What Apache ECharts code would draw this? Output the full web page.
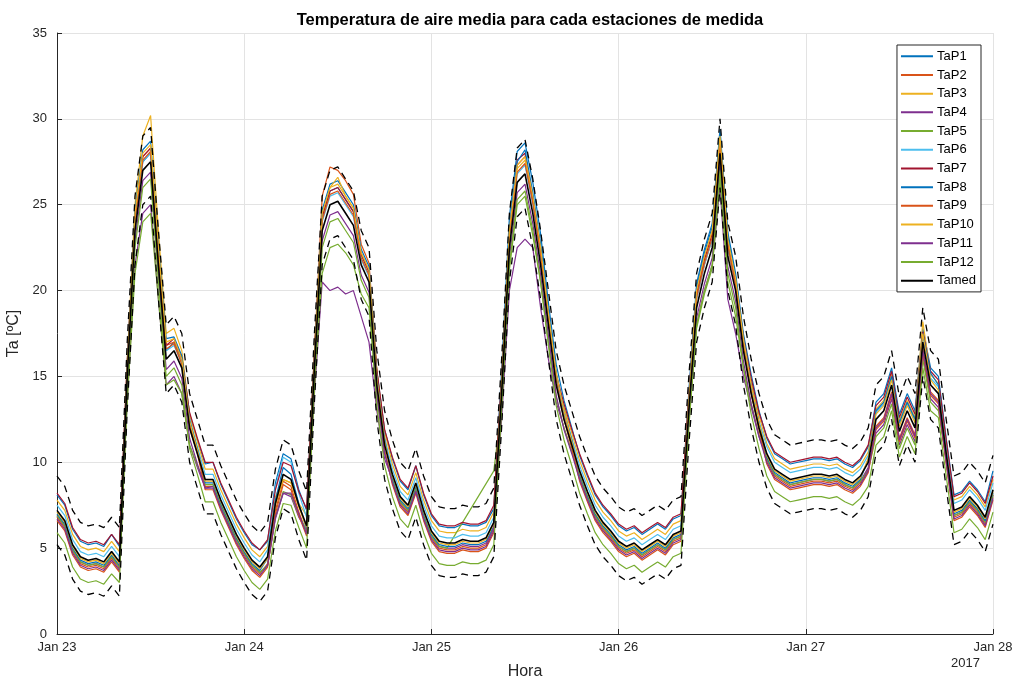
<!DOCTYPE html>
<html>
<head>
<meta charset="utf-8">
<script src="https://cdn.jsdelivr.net/npm/echarts@6/dist/echarts.min.js"></script>
<style>
html,body{margin:0;padding:0;background:#fff;}
#chart{width:1017px;height:681px;}
</style>
</head>
<body>
<div id="chart"></div>
<script>
// ---- Data (hourly samples, Jan 23 00:00 .. Jan 28 00:00) ----
const dayLabels = ['Jan 23','Jan 24','Jan 25','Jan 26','Jan 27','Jan 28'];
const yearLabel = '2017';
const stationNames = ['TaP1','TaP2','TaP3','TaP4','TaP5','TaP6','TaP7','TaP8','TaP9','TaP10','TaP11','TaP12'];

const tap1 = [8.1,7.5,6.1,5.4,5.2,5.3,5.1,5.8,5.1,15.7,24.0,27.5,28.0,22.0,16.5,17.0,16.0,12.8,11.3,9.9,10.0,8.7,7.7,6.7,
5.9,5.2,4.9,5.4,8.8,10.5,10.2,8.4,7.2,16.3,24.3,25.8,26.0,25.3,24.6,22.1,21.1,15.3,11.9,10.2,8.9,8.4,9.8,8.1,
6.9,6.3,6.2,6.2,6.4,6.3,6.3,6.5,7.3,15.3,24.3,28.1,28.6,26.3,23.3,19.3,15.7,13.6,12.0,10.4,9.2,8.1,7.4,6.9,
6.3,6.0,6.2,5.8,6.1,6.4,6.1,6.7,6.9,14.1,20.4,22.4,23.9,29.4,23.4,21.0,17.5,15.1,13.0,11.4,10.5,10.2,9.9,10.0,
10.1,10.2,10.2,10.1,10.2,9.9,9.7,10.1,10.9,13.5,14.0,15.5,12.8,14.0,13.0,17.8,15.5,15.0,11.4,8.1,8.3,8.9,8.4,7.7,9.5];
const tap2 = [6.8,6.2,4.8,4.1,3.9,4.0,3.8,4.4,3.8,15.2,24.3,27.8,28.3,22.3,16.8,17.0,15.8,12.2,10.7,8.6,8.6,7.4,6.4,5.4,
4.6,3.9,3.5,4.1,7.2,8.9,8.6,7.1,5.9,16.3,25.5,27.2,27.0,26.4,25.6,22.7,21.6,15.3,11.5,8.9,7.6,7.1,8.4,6.8,
5.6,5.0,4.9,4.9,5.1,5.0,5.0,5.2,6.1,14.3,23.5,27.3,27.8,25.5,22.5,18.6,14.9,12.8,11.2,9.1,7.9,6.8,6.1,5.6,
5.0,4.7,4.9,4.5,4.8,5.1,4.8,5.4,5.6,13.1,19.5,21.5,23.0,28.5,22.5,20.3,16.7,14.1,12.1,10.1,9.2,8.9,8.6,8.7,
8.8,8.9,8.9,8.8,8.9,8.6,8.4,8.8,9.6,12.1,12.6,14.1,11.4,12.6,11.6,16.6,14.1,13.6,10.1,6.8,7.0,7.6,7.1,6.4,8.0];
const tap3 = [7.8,7.2,5.8,5.1,4.9,5.0,4.8,5.4,4.8,15.8,25.0,29.0,30.2,23.5,17.5,17.8,16.5,12.8,11.2,9.6,9.6,8.4,7.4,6.4,
5.6,4.9,4.5,5.1,8.0,9.0,8.8,7.6,6.9,16.3,24.5,26.0,26.2,25.5,24.8,22.2,21.2,15.3,11.8,9.9,8.6,8.1,9.4,7.8,
6.6,6.0,5.9,5.9,6.1,6.0,6.0,6.2,7.1,14.7,23.3,27.1,27.6,25.3,22.3,18.6,15.1,13.2,11.7,10.1,8.9,7.8,7.1,6.6,
6.0,5.7,5.9,5.5,5.8,6.1,5.8,6.4,6.6,13.8,19.8,21.8,23.3,28.8,22.8,20.6,17.1,14.7,12.7,11.1,10.2,9.9,9.6,9.7,
9.8,9.9,9.9,9.8,9.9,9.6,9.4,9.8,10.6,13.1,13.6,15.1,12.4,13.6,12.6,18.2,15.1,14.6,11.1,7.8,8.0,8.6,8.1,7.4,9.0];
const tap4 = [6.9,6.3,4.9,4.2,4.0,4.1,3.9,4.5,3.9,13.6,21.5,24.5,25.0,19.5,14.5,15.0,14.0,11.0,9.7,8.5,8.6,7.4,6.4,5.5,
4.7,4.0,3.6,4.0,6.7,8.2,8.0,6.8,6.0,14.0,20.5,20.0,20.2,19.8,20.0,18.5,17.0,13.0,10.2,9.0,7.7,7.2,8.5,6.9,
5.7,5.1,5.0,5.0,5.2,5.1,5.1,5.3,6.2,12.5,20.0,22.5,23.0,22.5,19.0,16.0,13.5,12.0,10.6,9.2,8.0,6.9,6.2,5.7,
5.1,4.8,5.0,4.6,4.9,5.2,4.9,5.5,5.7,12.5,18.0,20.0,21.5,26.0,19.5,17.5,15.0,13.2,11.5,10.2,9.3,9.0,8.7,8.8,
8.9,9.0,9.0,8.9,9.0,8.7,8.5,8.9,9.7,11.7,12.2,13.7,11.0,12.2,11.2,16.2,13.7,13.2,10.2,6.9,7.1,7.7,7.2,6.5,8.1];
const tap5 = [6.9,6.3,4.9,4.2,4.0,4.1,3.9,4.5,3.9,13.5,21.0,24.0,24.5,19.5,14.5,14.8,14.0,11.0,9.8,8.7,8.7,7.5,6.5,5.5,
4.7,4.0,3.6,4.0,6.8,8.3,8.1,6.9,6.0,14.5,21.0,22.5,22.7,22.2,21.5,19.8,19.0,13.8,10.6,9.0,7.7,7.2,8.5,6.9,
5.7,5.1,5.0,null,null,null,null,null,9.5,13.2,21.2,25.0,25.5,23.2,20.5,17.0,13.8,12.0,10.6,9.2,8.0,6.9,6.2,5.7,
5.1,4.8,5.0,4.6,4.9,5.2,4.9,5.5,5.7,12.3,17.8,19.8,21.3,26.5,20.5,18.5,15.5,13.4,11.6,10.2,9.3,9.0,8.7,8.8,
8.9,9.0,9.0,8.9,9.0,8.7,8.5,8.9,9.5,11.5,12.0,13.4,10.8,12.0,11.0,16.0,13.5,13.0,10.2,6.9,7.1,7.7,7.2,6.5,8.1];
const tap6 = [7.5,6.9,5.5,4.8,4.6,4.7,4.5,5.1,4.5,15.4,24.0,27.5,28.0,22.0,16.5,16.8,15.8,12.4,10.9,9.3,9.3,8.1,7.1,6.1,
5.3,4.6,4.2,4.9,8.5,10.3,10.0,8.2,6.8,15.9,24.0,25.5,25.7,25.0,24.3,21.8,20.8,14.9,11.4,9.6,8.3,7.8,9.1,7.5,
6.3,5.7,5.6,5.6,5.8,5.7,5.7,5.9,6.8,14.4,23.0,26.8,27.3,25.0,22.0,18.4,14.9,12.9,11.4,9.8,8.6,7.5,6.8,6.3,
5.7,5.4,5.6,5.2,5.5,5.8,5.5,6.1,6.3,13.3,19.5,21.5,23.0,28.5,22.5,20.5,17.0,14.4,12.4,10.9,10.0,9.7,9.4,9.5,
9.6,9.7,9.7,9.6,9.7,9.4,9.2,9.6,10.4,12.9,13.4,14.9,12.2,13.4,12.4,17.4,14.9,14.4,10.9,7.6,7.8,8.4,7.9,7.2,8.8];
const tap7 = [8.2,7.6,6.2,5.5,5.3,5.4,5.2,5.8,5.2,15.9,24.3,27.8,28.3,22.3,16.8,17.2,16.1,12.9,11.4,10.0,10.0,8.8,7.8,6.8,
6.0,5.3,4.9,5.5,8.4,10.0,9.8,8.3,7.3,16.4,24.3,25.8,26.0,25.3,24.6,22.1,21.1,15.4,11.9,10.3,9.0,8.5,9.8,8.2,
7.0,6.4,6.3,6.3,6.5,6.4,6.4,6.6,7.5,14.9,23.3,27.6,28.0,25.3,22.3,18.6,15.1,13.4,11.9,10.5,9.3,8.2,7.5,7.0,
6.4,6.1,6.3,5.9,6.2,6.5,6.2,6.8,7.0,13.9,19.8,21.8,23.3,28.8,22.8,20.6,17.3,14.9,12.9,11.5,10.6,10.3,10.0,10.1,
10.2,10.3,10.3,10.2,10.3,10.0,9.8,10.2,11.0,13.3,13.8,15.3,12.6,13.8,12.8,17.6,15.3,14.8,11.3,8.0,8.2,8.8,8.3,7.6,9.2];
const tap8 = [7.0,6.4,5.0,4.3,4.1,4.2,4.0,4.6,4.0,15.5,24.7,28.2,28.7,22.7,17.2,17.3,16.2,12.5,10.8,8.8,8.8,7.6,6.6,5.6,
4.8,4.1,3.7,4.4,7.8,9.7,9.3,7.6,6.1,16.0,24.7,26.2,26.4,25.7,25.0,22.4,21.4,15.0,11.3,9.1,7.8,7.3,8.6,7.0,
5.8,5.2,5.1,5.1,5.3,5.2,5.2,5.4,6.3,14.5,23.7,27.5,28.2,25.7,22.7,18.8,15.2,13.0,11.3,9.3,8.1,7.0,6.3,5.8,
5.2,4.9,5.1,4.7,5.0,5.3,5.0,5.6,5.8,13.5,20.2,22.2,23.7,29.2,23.2,20.8,17.3,14.5,12.3,10.3,9.4,9.1,8.8,8.9,
9.0,9.1,9.1,9.0,9.1,8.8,8.6,9.0,10.2,13.0,13.5,15.0,12.3,13.5,12.5,17.5,15.2,14.5,10.3,7.0,7.2,7.8,7.3,6.6,8.2];
const tap9 = [6.6,6.0,4.6,3.9,3.7,3.8,3.6,4.2,3.6,15.0,24.1,27.6,28.1,22.1,16.6,16.9,15.7,12.0,10.5,8.4,8.4,7.2,6.2,5.2,
4.4,3.7,3.3,3.9,7.0,8.7,8.4,6.9,5.7,15.5,24.1,25.6,25.8,25.1,24.4,21.9,20.9,14.5,10.7,8.7,7.4,6.9,8.2,6.6,
5.4,4.8,4.7,4.7,4.9,4.8,4.8,5.0,5.9,14.0,23.1,26.9,27.4,25.1,22.1,18.4,14.8,12.5,10.8,8.9,7.7,6.6,5.9,5.4,
4.8,4.5,4.7,4.3,4.6,4.9,4.6,5.2,5.4,13.0,19.6,21.6,23.1,28.6,22.6,20.4,16.9,14.0,11.9,9.9,9.0,8.7,8.4,8.5,
8.6,8.7,8.7,8.6,8.7,8.4,8.2,8.6,9.4,11.9,12.4,13.9,11.2,12.4,11.4,16.4,13.9,13.4,9.9,6.6,6.8,7.4,6.9,6.2,7.8];
const tap10 = [7.1,6.5,5.1,4.4,4.2,4.3,4.1,4.7,4.1,15.4,24.5,28.0,28.5,22.5,17.0,17.2,16.0,12.4,10.7,8.9,8.9,7.7,6.7,5.7,
4.9,4.2,3.8,4.4,7.5,9.0,8.8,7.4,6.2,16.0,24.5,26.0,26.6,25.5,24.8,22.2,21.2,14.9,11.2,9.2,7.9,7.4,8.7,7.1,
5.9,5.3,5.2,5.2,5.4,5.3,5.3,5.5,6.4,14.5,23.5,27.3,27.8,25.5,22.5,18.7,15.2,13.0,11.2,9.4,8.2,7.1,6.4,5.9,
5.3,5.0,5.2,4.8,5.1,5.4,5.1,5.7,5.9,13.5,20.0,22.0,23.5,29.0,23.0,20.7,17.2,14.5,12.3,10.4,9.5,9.2,8.9,9.0,
9.1,9.2,9.2,9.1,9.2,8.9,8.7,9.1,10.2,12.8,13.3,14.8,12.1,13.3,12.3,17.5,14.8,14.2,10.4,7.1,7.3,7.9,7.4,6.7,8.3];
const tap11 = [6.7,6.1,4.7,4.0,3.8,3.9,3.7,4.3,3.7,14.4,22.9,26.4,26.9,20.9,15.4,15.9,14.9,11.4,9.9,8.5,8.5,7.3,6.3,5.3,
4.5,3.8,3.4,4.0,6.8,8.2,8.2,7.0,5.8,14.9,22.9,24.4,24.6,23.9,23.2,20.9,19.9,13.9,10.5,8.8,7.5,7.0,8.3,6.7,
5.5,4.9,4.8,4.8,5.0,4.9,4.9,5.1,6.0,13.4,21.9,25.7,26.2,23.9,20.9,17.4,13.9,11.9,10.5,9.0,7.8,6.7,6.0,5.5,
4.9,4.6,4.8,4.4,4.7,5.0,4.7,5.3,5.5,12.4,18.4,20.4,21.9,27.4,21.4,19.4,15.9,13.4,11.5,10.0,9.1,8.8,8.5,8.6,
8.7,8.8,8.8,8.7,8.8,8.5,8.3,8.7,9.5,12.0,12.5,14.0,11.3,12.5,11.5,16.5,14.0,13.5,10.0,6.7,6.9,7.5,7.0,6.3,7.9];
const tap12 = [5.9,5.3,3.9,3.2,3.0,3.1,2.9,3.5,3.0,13.8,22.5,26.0,26.5,20.5,15.0,15.5,14.5,10.8,9.3,7.7,7.7,6.5,5.5,4.5,
3.7,3.0,2.6,3.2,6.0,7.6,7.5,6.2,5.0,14.3,22.5,24.0,24.2,23.5,22.8,20.6,19.6,13.3,9.8,8.0,6.7,6.2,7.5,5.9,
4.7,4.1,4.0,4.0,4.2,4.1,4.1,4.3,5.2,13.0,21.5,25.3,25.8,23.5,20.5,16.8,13.3,11.3,9.8,8.2,7.0,5.9,5.2,4.7,
4.1,3.8,4.0,3.6,3.9,4.2,3.9,4.5,4.7,12.0,18.0,20.0,21.5,27.0,21.0,19.0,15.5,12.8,10.8,9.2,8.3,8.0,7.7,7.8,
7.9,8.0,8.0,7.9,8.0,7.7,7.5,7.9,8.6,11.0,11.5,13.0,10.3,11.5,10.5,15.5,13.0,12.6,9.2,5.9,6.1,6.7,6.2,5.5,7.1];
const tamed = [7.2,6.6,5.2,4.5,4.3,4.4,4.2,4.8,4.2,15.0,23.5,27.0,27.5,21.5,16.0,16.5,15.5,12.0,10.5,9.0,9.0,7.8,6.8,5.8,
5.0,4.3,3.9,4.5,7.6,9.3,9.0,7.5,6.3,15.5,23.5,25.0,25.2,24.5,23.8,21.5,20.5,14.5,11.0,9.3,8.0,7.5,8.8,7.2,
6.0,5.4,5.3,5.3,5.5,5.4,5.4,5.6,6.5,14.0,22.5,26.3,26.8,24.5,21.5,18.0,14.5,12.5,11.0,9.5,8.3,7.2,6.5,6.0,
5.4,5.1,5.3,4.9,5.2,5.5,5.2,5.8,6.0,13.0,19.0,21.0,22.5,28.0,22.0,20.0,16.5,14.0,12.0,10.5,9.6,9.3,9.0,9.1,
9.2,9.3,9.3,9.2,9.3,9.0,8.8,9.2,10.0,12.5,13.0,14.5,11.8,13.0,12.0,17.0,14.5,14.0,10.5,7.2,7.4,8.0,7.5,6.8,8.4];
const tamedUpper = [9.2,8.6,7.2,6.5,6.3,6.4,6.2,6.8,6.2,17.0,25.5,29.0,29.5,23.5,18.0,18.5,17.5,14.0,12.5,11.0,11.0,9.8,8.8,7.8,
7.0,6.3,5.9,6.5,9.6,11.3,11.0,9.5,8.3,17.5,25.5,27.0,27.2,26.5,25.8,23.5,22.5,16.5,13.0,11.3,10.0,9.5,10.8,9.2,
8.0,7.4,7.3,7.3,7.5,7.4,7.4,7.6,8.5,16.0,24.5,28.3,28.8,26.5,23.5,20.0,16.5,14.5,13.0,11.5,10.3,9.2,8.5,8.0,
7.4,7.1,7.3,6.9,7.2,7.5,7.2,7.8,8.0,15.0,21.0,23.0,24.5,30.0,24.0,22.0,18.5,16.0,14.0,12.5,11.6,11.3,11.0,11.1,
11.2,11.3,11.3,11.2,11.3,11.0,10.8,11.2,12.0,14.5,15.0,16.5,13.8,15.0,14.0,19.0,16.5,16.0,12.5,9.2,9.4,10.0,9.5,8.8,10.4];
const tamedLower = [5.2,4.6,3.2,2.5,2.3,2.4,2.2,2.8,2.2,13.0,21.5,25.0,25.5,19.5,14.0,14.5,13.5,10.0,8.5,7.0,7.0,5.8,4.8,3.8,
3.0,2.3,1.9,2.5,5.6,7.3,7.0,5.5,4.3,13.5,21.5,23.0,23.2,22.5,21.8,19.5,18.5,12.5,9.0,7.3,6.0,5.5,6.8,5.2,
4.0,3.4,3.3,3.3,3.5,3.4,3.4,3.6,4.5,12.0,20.5,24.3,24.8,22.5,19.5,16.0,12.5,10.5,9.0,7.5,6.3,5.2,4.5,4.0,
3.4,3.1,3.3,2.9,3.2,3.5,3.2,3.8,4.0,11.0,17.0,19.0,20.5,26.0,20.0,18.0,14.5,12.0,10.0,8.5,7.6,7.3,7.0,7.1,
7.2,7.3,7.3,7.2,7.3,7.0,6.8,7.2,8.0,10.5,11.0,12.5,9.8,11.0,10.0,15.0,12.5,12.0,8.5,5.2,5.4,6.0,5.5,4.8,6.4];

const stationData = [tap1,tap2,tap3,tap4,tap5,tap6,tap7,tap8,tap9,tap10,tap11,tap12];

// ---- Styles ----
const palette = ['#0072BD','#D95319','#EDB120','#7E2F8E','#77AC30','#4DBEEE','#A2142F'];
const axisColor = '#262626';
const gridColor = '#e3e3e3';
const FONT = '"Liberation Sans", Arial, Helvetica, sans-serif';

function toPairs(arr){ return arr.map((v,i)=>[i, v]); }

const series = [];
stationData.forEach((arr, k) => {
  series.push({
    name: stationNames[k], type: 'line', data: toPairs(arr),
    symbol: 'none', connectNulls: true,
    lineStyle: {width: 1.2, color: palette[k % 7]},
    itemStyle: {color: palette[k % 7]},
    emphasis: {disabled: true}
  });
});
series.push({
  name: 'Tamed', type: 'line', data: toPairs(tamed), symbol: 'none',
  lineStyle: {width: 1.6, color: '#000000'}, itemStyle: {color: '#000000'},
  emphasis: {disabled: true}
});
[['sup', tamedUpper], ['inf', tamedLower]].forEach(([nm, arr]) => {
  series.push({
    name: nm, type: 'line', data: toPairs(arr), symbol: 'none',
    lineStyle: {width: 1.3, color: '#000000', type: [7,5]},
    itemStyle: {color: '#000000'},
    emphasis: {disabled: true}
  });
});

const legendNames = stationNames.concat(['Tamed']);

const chart = echarts.init(document.getElementById('chart'), null, {renderer: 'canvas'});
chart.setOption({
  animation: false,
  backgroundColor: '#ffffff',
  textStyle: {fontFamily: FONT},
  title: {
    text: 'Temperatura de aire media para cada estaciones de medida',
    left: 525, top: 7, textAlign: 'center',
    textStyle: {fontFamily: FONT, fontSize: 16.5, fontWeight: 'bold', color: '#000'}
  },
  grid: {left: 57, right: 24, top: 33, bottom: 47, containLabel: false, outerBoundsMode: 'none'},
  legend: {
    data: legendNames.map(n => ({name: n, icon: 'rect'})),
    orient: 'vertical', right: 36, top: 45,
    itemWidth: 32, itemHeight: 2, itemGap: 4.2,
    padding: [4, 5, 4, 4],
    borderColor: axisColor, borderWidth: 1, backgroundColor: '#ffffff',
    textStyle: {fontFamily: FONT, fontSize: 13, color: '#000', lineHeight: 14.5, padding: [0,0,0,-1]},
    selectedMode: false
  },
  xAxis: {
    type: 'value', min: 0, max: 120, interval: 24,
    name: 'Hora', nameLocation: 'middle', nameGap: 30,
    nameTextStyle: {fontFamily: FONT, fontSize: 16, color: axisColor},
    axisLine: {show: true, lineStyle: {color: axisColor, width: 1}},
    axisTick: {show: true, inside: true, length: 5, lineStyle: {color: axisColor}},
    axisLabel: {
      fontFamily: FONT, fontSize: 13, color: axisColor, margin: 7,
      formatter: v => dayLabels[Math.round(v / 24)]
    },
    splitLine: {show: true, lineStyle: {color: gridColor, width: 1}}
  },
  yAxis: {
    type: 'value', min: 0, max: 35, interval: 5,
    name: 'Ta [ºC]', nameLocation: 'middle', nameGap: 31,
    nameTextStyle: {fontFamily: FONT, fontSize: 16, color: axisColor},
    axisLine: {show: true, lineStyle: {color: axisColor, width: 1}},
    axisTick: {show: true, inside: true, length: 5, lineStyle: {color: axisColor}},
    axisLabel: {fontFamily: FONT, fontSize: 13, color: axisColor, margin: 10},
    splitLine: {show: true, lineStyle: {color: gridColor, width: 1}}
  },
  graphic: [{
    type: 'text', left: 951, top: 657,
    style: {text: yearLabel, fontFamily: FONT, fontSize: 13, fill: axisColor}
  }],
  series: series
});
</script>
</body>
</html>
